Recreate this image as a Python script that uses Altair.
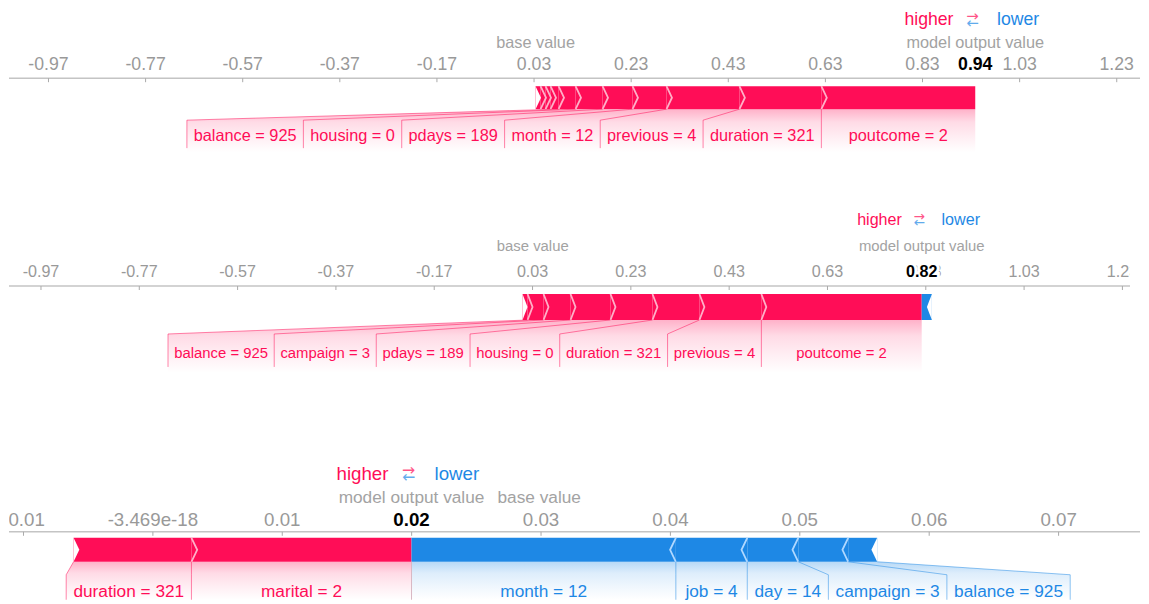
import altair as alt
import pandas as pd

# ============================ DATA ============================
# Panel 1 (top force plot)
p1_features = ["marital = 2", "job = 4", "day = 14", "campaign = 3",
               "balance = 925", "housing = 0", "pdays = 189", "month = 12",
               "previous = 4", "duration = 321", "poutcome = 2"]
p1_shap = [0.0103, 0.0103, 0.0103, 0.0165, 0.0350, 0.0556, 0.0617, 0.0700,
           0.1502, 0.1687, 0.3169]
p1_base = 0.0331
p1_ticks = [-0.97, -0.77, -0.57, -0.37, -0.17, 0.03, 0.23, 0.43, 0.63, 0.83, 1.03, 1.23]
p1_tick_labels = ["-0.97", "-0.77", "-0.57", "-0.37", "-0.17", "0.03", "0.23",
                  "0.43", "0.63", "0.83", "1.03", "1.23"]

# Panel 2 (middle force plot)
p2_features = ["month = 12", "balance = 925", "campaign = 3", "pdays = 189",
               "housing = 0", "duration = 321", "previous = 4", "poutcome = 2",
               "day = 14"]
p2_shap = [0.0102, 0.0325, 0.0549, 0.0813, 0.0854, 0.0955, 0.1260, 0.3262, -0.0207]
p2_base = 0.0304
p2_ticks = [-0.97, -0.77, -0.57, -0.37, -0.17, 0.03, 0.23, 0.43, 0.63, 0.83, 1.03, 1.23]
p2_tick_labels = ["-0.97", "-0.77", "-0.57", "-0.37", "-0.17", "0.03", "0.23",
                  "0.43", "0.63", "0.83", "1.03", "1.23"]

# Panel 3 (bottom force plot)
p3_features = ["duration = 321", "marital = 2", "month = 12", "job = 4",
               "day = 14", "campaign = 3", "balance = 925"]
p3_shap = [0.00911, 0.01701, -0.02043, -0.00552, -0.00394, -0.00386, -0.00224]
p3_base = 0.02986
p3_ticks = [-0.01, 0.0, 0.01, 0.02, 0.03, 0.04, 0.05, 0.06, 0.07]
p3_tick_labels = ["-0.01", "-3.469e-18", "0.01", "0.02", "0.03", "0.04",
                  "0.05", "0.06", "0.07"]

# ============================ STYLE / LAYOUT ============================
FONT = "Liberation Sans"
RED, BLUE = "#ff0d57", "#1e88e5"
RED_LIGHT, BLUE_LIGHT = "#ffb0c8", "#b0d8ff"
GREY = "#999999"
LABEL_MIN_SHARE = 0.03

LAYOUT = [
    dict(dom=(-1.0513, 1.2779), width=1132, top=8, bottom=200, s=1.36,
         hl=16, mv=39, tk=61, ax=74, bt=82, bb=105, lt=116, ly=132, lb=144, fb=148),
    dict(dom=(-1.03504, 1.24545), width=1122, top=200, bottom=445, s=1.24,
         hl=216, mv=243, tk=268, ax=282, bt=290, bb=316, lt=330, ly=350, lb=363, fb=369),
    dict(dom=(-0.011120, 0.076293), width=1132, top=445, bottom=596, s=1.44,
         hl=470, mv=494, tk=516, ax=528, bt=534, bb=558, lt=571, ly=588, lb=596, fb=596),
]

ARIAL = {' ': 278, '=': 584, '.': 278, '-': 333,
         'a': 556, 'b': 556, 'c': 500, 'd': 556, 'e': 556, 'f': 278, 'g': 556,
         'h': 556, 'i': 222, 'j': 222, 'k': 500, 'l': 222, 'm': 833, 'n': 556,
         'o': 556, 'p': 556, 'q': 556, 'r': 333, 's': 500, 't': 278, 'u': 556,
         'v': 500, 'w': 722, 'x': 500, 'y': 500, 'z': 500}


def text_w(t, fs):
    return sum(ARIAL.get(c, 556) for c in t) * fs / 1000.0


def grad(r, g, b):
    return {"gradient": "linear", "x1": 0, "x2": 0, "y1": 0, "y2": 1,
            "stops": [{"offset": 0, "color": f"rgba({r},{g},{b},0.32)"},
                      {"offset": 0.3, "color": f"rgba({r},{g},{b},0.15)"},
                      {"offset": 0.65, "color": f"rgba({r},{g},{b},0.07)"},
                      {"offset": 1, "color": f"rgba({r},{g},{b},0.0)"}]}


def make_panel(features, shap_vals, base, ticks, tick_labels, L):
    lo, hi = L["dom"]
    W = L["width"]
    top, bottom = L["top"], L["bottom"]
    ppu = W / (hi - lo)
    s = L["s"]

    def px(p):
        return p / ppu

    def X(f="x"):
        return alt.X(f"{f}:Q", scale=alt.Scale(domain=[lo, hi], nice=False, zero=False), axis=None)

    def Y(f="y"):
        return alt.Y(f"{f}:Q", scale=alt.Scale(domain=[top, bottom], reverse=True, nice=False, zero=False),
                     axis=None)

    out = base + sum(shap_vals)
    total = sum(abs(v) for v in shap_vals)
    pos = sorted([(n, v) for n, v in zip(features, shap_vals) if v > 0], key=lambda t: -t[1])
    neg = sorted([(n, -v) for n, v in zip(features, shap_vals) if v < 0], key=lambda t: -t[1])

    tip = px(4 * s)
    mid = (L["bt"] + L["bb"]) / 2
    fs_lab = 12 * s

    segs, chev, notch, lead, labs = [], [], [], [], []
    fans = {}
    labelled_sides = 0
    for sign, items, col, light in ((1, pos, RED, RED_LIGHT), (-1, neg, BLUE, BLUE_LIGHT)):
        if not items:
            continue
        edge = out
        ledge = out
        last_lab_outer = None
        for i, (n, v) in enumerate(items):
            outer = edge - sign * v
            segs.append(dict(x=min(edge, outer), x2=max(edge, outer), y=L["bt"], y2=L["bb"], c=col))
            k = f"{sign}_{i}"
            if i < len(items) - 1:
                chev += [dict(k=k, o=0, x=outer, y=L["bt"], c=light),
                         dict(k=k, o=1, x=outer + sign * tip, y=mid, c=light),
                         dict(k=k, o=2, x=outer, y=L["bb"], c=light)]
            else:
                notch += [dict(k=k, x=outer, y=L["bt"], y2=L["bb"]),
                          dict(k=k, x=outer + sign * tip, y=mid, y2=mid)]
            if v / total >= LABEL_MIN_SHARE:
                tw = text_w(n, fs_lab)
                rw = px(max(tw, v * ppu - 10 * s) + 10 * s)
                new = ledge - sign * rw
                labs.append(dict(x=(ledge + new) / 2, y=L["ly"], t=n, c=col))
                lead += [dict(k=k, o=0, x=outer, y=L["bb"], c=col),
                         dict(k=k, o=1, x=new, y=L["lt"], c=col),
                         dict(k=k, o=2, x=new, y=L["lb"], c=col)]
                ledge = new
                last_lab_outer = outer
            edge = outer
        if last_lab_outer is not None:
            labelled_sides += 1
            fans[sign] = pd.DataFrame([dict(x=ledge, y=L["lt"], y2=L["fb"]),
                                       dict(x=last_lab_outer, y=L["bb"], y2=L["fb"]),
                                       dict(x=out, y=L["bb"], y2=L["fb"])])

    layers = []
    # label backing fans
    for sign, rgb in ((1, (255, 13, 87)), (-1, (30, 136, 229))):
        if sign in fans:
            layers.append(alt.Chart(fans[sign]).mark_area(color=grad(*rgb), interpolate="linear")
                          .encode(x=X(), y=Y(), y2=alt.Y2("y2:Q")))
    # bar segments
    layers.append(alt.Chart(pd.DataFrame(segs)).mark_rect()
                  .encode(x=X(), x2=alt.X2("x2:Q"), y=Y(), y2=alt.Y2("y2:Q"),
                          color=alt.Color("c:N", scale=None)))
    # notches at the outer ends
    layers.append(alt.Chart(pd.DataFrame(notch)).mark_area(color="white", interpolate="linear")
                  .encode(x=X(), y=Y(), y2=alt.Y2("y2:Q"), detail="k:N"))
    # chevron separators
    if chev:
        layers.append(alt.Chart(pd.DataFrame(chev)).mark_line(strokeWidth=1.8)
                      .encode(x=X(), y=Y(), detail="k:N", order="o:Q",
                              color=alt.Color("c:N", scale=None)))
    # leader lines
    if lead:
        layers.append(alt.Chart(pd.DataFrame(lead)).mark_line(strokeWidth=1, opacity=0.5)
                      .encode(x=X(), y=Y(), detail="k:N", order="o:Q",
                              color=alt.Color("c:N", scale=None)))
    if labelled_sides == 2:
        layers.append(alt.Chart(pd.DataFrame([dict(x=out, y=L["bb"], y2=L["lb"])]))
                      .mark_rule(color="#d9b8c4", strokeWidth=1)
                      .encode(x=X(), y=Y(), y2=alt.Y2("y2:Q")))
    # feature labels
    layers.append(alt.Chart(pd.DataFrame(labs)).mark_text(font=FONT, fontSize=fs_lab, baseline="middle")
                  .encode(x=X(), y=Y(), text="t:N", color=alt.Color("c:N", scale=None)))
    # axis line and ticks
    layers.append(alt.Chart(pd.DataFrame([dict(x=lo, x2=hi, y=L["ax"])]))
                  .mark_rule(color="#c4c4c4", strokeWidth=1.5)
                  .encode(x=X(), x2=alt.X2("x2:Q"), y=Y()))
    tdf = pd.DataFrame(dict(x=ticks, t=tick_labels))
    tdf["y"] = L["ax"]
    tdf["y2"] = L["ax"] + 4
    tdf["ty"] = L["tk"]
    layers.append(alt.Chart(tdf).mark_rule(color="#aaaaaa", strokeWidth=1)
                  .encode(x=X(), y=Y(), y2=alt.Y2("y2:Q")))
    layers.append(alt.Chart(tdf).mark_text(font=FONT, fontSize=13 * s, color=GREY, baseline="middle", clip=True)
                  .encode(x=X(), y=Y("ty"), text="t:N"))
    # output value (bold, with white halo)
    odf = pd.DataFrame([dict(x=out, y=L["tk"], t=f"{out:.2f}")])
    layers.append(alt.Chart(odf).mark_text(font=FONT, fontSize=13 * s, fontWeight="bold", fill="white",
                                           stroke="white", strokeWidth=6, baseline="middle")
                  .encode(x=X(), y=Y(), text="t:N"))
    layers.append(alt.Chart(odf).mark_text(font=FONT, fontSize=13 * s, fontWeight="bold", color="#000000",
                                           baseline="middle")
                  .encode(x=X(), y=Y(), text="t:N"))
    # captions
    cap = pd.DataFrame([dict(x=base, y=L["mv"], t="base value"),
                        dict(x=out, y=L["mv"], t="model output value")])
    layers.append(alt.Chart(cap).mark_text(font=FONT, fontSize=12 * s, color="#a3a3a3", baseline="middle")
                  .encode(x=X(), y=Y(), text="t:N"))
    gap = px(16 * s)
    hl = pd.DataFrame([dict(x=out - gap, y=L["hl"], t="higher", c=RED, a="right"),
                       dict(x=out + gap, y=L["hl"], t="lower", c=BLUE, a="left")])
    layers.append(alt.Chart(hl[hl.a == "right"]).mark_text(font=FONT, fontSize=13 * s, align="right",
                                                          baseline="middle")
                  .encode(x=X(), y=Y(), text="t:N", color=alt.Color("c:N", scale=None)))
    layers.append(alt.Chart(hl[hl.a == "left"]).mark_text(font=FONT, fontSize=13 * s, align="left",
                                                         baseline="middle")
                  .encode(x=X(), y=Y(), text="t:N", color=alt.Color("c:N", scale=None)))
    arr = pd.DataFrame([dict(x=out - px(2 * s), y=L["hl"] - 2.5 * s, t="\u2192", c=RED),
                        dict(x=out - px(2 * s), y=L["hl"] + 2.5 * s, t="\u2190", c=BLUE)])
    layers.append(alt.Chart(arr).mark_text(font="DejaVu Sans", fontSize=11 * s, baseline="middle", opacity=0.7)
                  .encode(x=X(), y=Y(), text="t:N", color=alt.Color("c:N", scale=None)))

    return alt.layer(*layers).properties(width=W, height=bottom - top)


panels = [
    make_panel(p1_features, p1_shap, p1_base, p1_ticks, p1_tick_labels, LAYOUT[0]),
    make_panel(p2_features, p2_shap, p2_base, p2_ticks, p2_tick_labels, LAYOUT[1]),
    make_panel(p3_features, p3_shap, p3_base, p3_ticks, p3_tick_labels, LAYOUT[2]),
]

chart = (alt.vconcat(*panels, spacing=0)
         .resolve_scale(x="independent", y="independent", color="independent")
         .properties(padding=0)
         .configure_view(strokeWidth=0, strokeOpacity=0))

chart.save("out.html", embed_options={"renderer": "svg", "actions": False})
